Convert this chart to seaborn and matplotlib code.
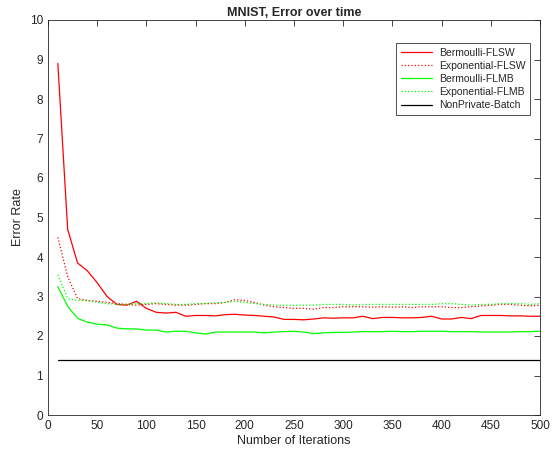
import numpy as np
import pandas as pd
import matplotlib
matplotlib.use('Agg')
import matplotlib.pyplot as plt
import seaborn as sns

iterations = list(range(10, 501, 10))

bern_flsw = [8.90, 4.70, 3.85, 3.65, 3.35, 3.00, 2.80, 2.78, 2.88, 2.70,
             2.60, 2.58, 2.60, 2.50, 2.52, 2.52, 2.51, 2.54, 2.55, 2.53,
             2.52, 2.50, 2.48, 2.42, 2.42, 2.41, 2.43, 2.46, 2.45, 2.46,
             2.46, 2.50, 2.44, 2.47, 2.47, 2.46, 2.46, 2.47, 2.50, 2.43,
             2.43, 2.47, 2.44, 2.52, 2.52, 2.52, 2.51, 2.51, 2.50, 2.50]
expo_flsw = [4.50, 3.50, 2.95, 2.90, 2.88, 2.85, 2.82, 2.80, 2.78, 2.80,
             2.82, 2.80, 2.78, 2.78, 2.80, 2.82, 2.82, 2.85, 2.92, 2.90,
             2.85, 2.78, 2.74, 2.72, 2.70, 2.70, 2.68, 2.72, 2.72, 2.74,
             2.74, 2.74, 2.73, 2.74, 2.73, 2.74, 2.72, 2.74, 2.74, 2.74,
             2.72, 2.72, 2.74, 2.76, 2.78, 2.80, 2.80, 2.78, 2.76, 2.78]
bern_flmb = [3.25, 2.75, 2.45, 2.35, 2.30, 2.28, 2.20, 2.18, 2.18, 2.15,
             2.15, 2.10, 2.12, 2.12, 2.08, 2.05, 2.10, 2.10, 2.10, 2.10,
             2.10, 2.08, 2.10, 2.11, 2.12, 2.10, 2.06, 2.08, 2.09, 2.09,
             2.10, 2.11, 2.11, 2.11, 2.12, 2.11, 2.11, 2.12, 2.12, 2.12,
             2.11, 2.11, 2.11, 2.10, 2.10, 2.10, 2.10, 2.11, 2.11, 2.12]
expo_flmb = [3.55, 2.95, 2.90, 2.90, 2.85, 2.82, 2.80, 2.80, 2.82, 2.82,
             2.84, 2.82, 2.80, 2.80, 2.82, 2.82, 2.84, 2.85, 2.88, 2.85,
             2.82, 2.80, 2.78, 2.78, 2.78, 2.78, 2.78, 2.80, 2.80, 2.80,
             2.78, 2.80, 2.80, 2.80, 2.80, 2.80, 2.80, 2.80, 2.80, 2.82,
             2.82, 2.80, 2.78, 2.80, 2.80, 2.82, 2.82, 2.82, 2.80, 2.82]
nonprivate = [1.40] * len(iterations)

series = {
    'Bermoulli-FLSW': bern_flsw,
    'Exponential-FLSW': expo_flsw,
    'Bermoulli-FLMB': bern_flmb,
    'Exponential-FLMB': expo_flmb,
    'NonPrivate-Batch': nonprivate,
}
styles = {
    'Bermoulli-FLSW': ('#ff0000', '-'),
    'Exponential-FLSW': ('#ff0000', ':'),
    'Bermoulli-FLMB': ('#00ff00', '-'),
    'Exponential-FLMB': ('#00ff00', ':'),
    'NonPrivate-Batch': ('#000000', '-'),
}

sns.set_style('white')
plt.rcParams['font.family'] = ['Liberation Sans', 'DejaVu Sans']

fig = plt.figure(figsize=(5.53, 4.51), dpi=100)
ax = fig.add_axes([48 / 553, 36 / 451, 492 / 553, 395 / 451])

for name, vals in series.items():
    color, ls = styles[name]
    df = pd.DataFrame({'x': iterations, 'y': vals})
    sns.lineplot(data=df, x='x', y='y', ax=ax, color=color, linestyle=ls,
                 linewidth=0.9, label=name)

ax.set_xlim(0, 500)
ax.set_ylim(0, 10)
ax.set_xticks(range(0, 501, 50))
ax.set_yticks(range(0, 11))
ax.set_xlabel('Number of Iterations', fontsize=9, labelpad=2)
ax.set_ylabel('Error Rate', fontsize=9, labelpad=4)
ax.set_title('MNIST, Error over time', fontsize=9, fontweight='bold', pad=3)
ax.tick_params(direction='in', length=4, width=0.6, labelsize=8.5,
               top=True, right=True, colors='#262626')
for sp in ax.spines.values():
    sp.set_color('#262626')
    sp.set_linewidth(0.6)

leg = ax.legend(loc='upper right', fontsize=7.5, frameon=True, fancybox=False,
                handlelength=3.0, borderpad=0.45, labelspacing=0.3,
                handletextpad=0.6, bbox_to_anchor=(0.99, 0.955))
leg.get_frame().set_edgecolor('black')
leg.get_frame().set_linewidth(0.6)

fig.savefig('out.png', dpi=100)
